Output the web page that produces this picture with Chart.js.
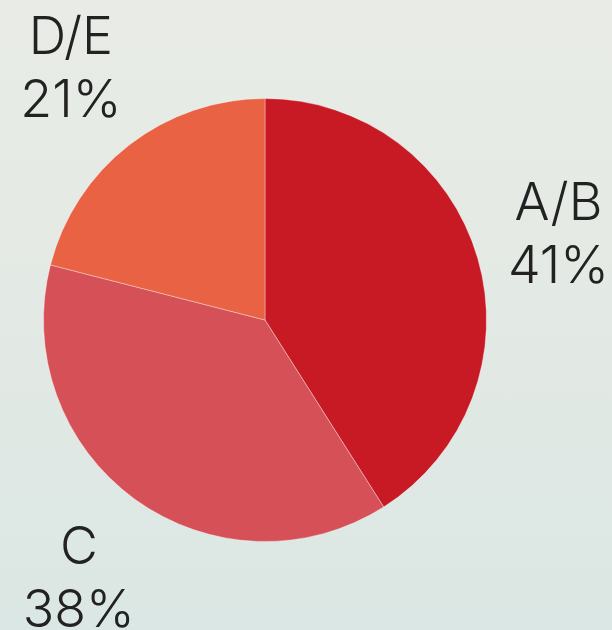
<!DOCTYPE html>
<html>
<head>
<meta charset="utf-8">
<script src="https://cdn.jsdelivr.net/npm/chart.js@4.4.0/dist/chart.umd.min.js"></script>
<style>
  html, body { margin: 0; padding: 0; }
  body {
    width: 612px; height: 630px; overflow: hidden;
    background: linear-gradient(180deg, #e9ece6 0%, #e3e9e4 50%, #dbe7e4 100%);
  }
  #wrap { position: relative; width: 612px; height: 630px; }
</style>
</head>
<body>
<div id="wrap"><canvas id="grafico" width="612" height="630"></canvas></div>
<script>
  // datos
  const categorias = ["A/B", "C", "D/E"];
  const valores = [41, 38, 21];
  const colores = ["#c81a24", "#d65058", "#e86243"];

  // etiquetas fuera de cada porción, sobre el ángulo medio
  const etiquetasFuera = {
    id: "etiquetasFuera",
    afterDatasetsDraw(chart) {
      const ctx = chart.ctx;
      const meta = chart.getDatasetMeta(0);
      const margen = 3;
      ctx.save();
      ctx.fillStyle = "#222222";
      ctx.textAlign = "center";
      ctx.textBaseline = "alphabetic";
      ctx.font = "300 52px Inter";
      meta.data.forEach((arc, i) => {
        const { x, y, startAngle, endAngle, outerRadius } = arc.getProps(
          ["x", "y", "startAngle", "endAngle", "outerRadius"], true);
        const medio = (startAngle + endAngle) / 2;
        const r = outerRadius * 1.43;
        const linea1 = categorias[i];
        const linea2 = valores[i] + "%";
        const ancho = Math.max(ctx.measureText(linea1).width, ctx.measureText(linea2).width);
        let cx = x + Math.cos(medio) * r;
        let cy = y + Math.sin(medio) * r;
        // no salir del lienzo
        cx = Math.min(cx, chart.width - margen - ancho / 2);
        cx = Math.max(cx, margen + ancho / 2);
        if (Math.sin(medio) < -0.5) cy -= 4;
        ctx.fillText(linea1, cx, cy - 12);
        ctx.fillText(linea2, cx, cy + 51);
      });
      ctx.restore();
    },
  };

  new Chart(document.getElementById("grafico"), {
    type: "pie",
    data: {
      labels: categorias,
      datasets: [{
        data: valores,
        backgroundColor: colores,
        borderColor: "rgba(255,255,255,0.35)",
        borderWidth: 1,
      }],
    },
    options: {
      responsive: false,
      animation: false,
      layout: { padding: { left: 43, right: 125, top: 98, bottom: 88 } },
      plugins: {
        legend: { display: false },
        tooltip: { enabled: false },
      },
    },
    plugins: [etiquetasFuera],
  });
</script>
</body>
</html>
